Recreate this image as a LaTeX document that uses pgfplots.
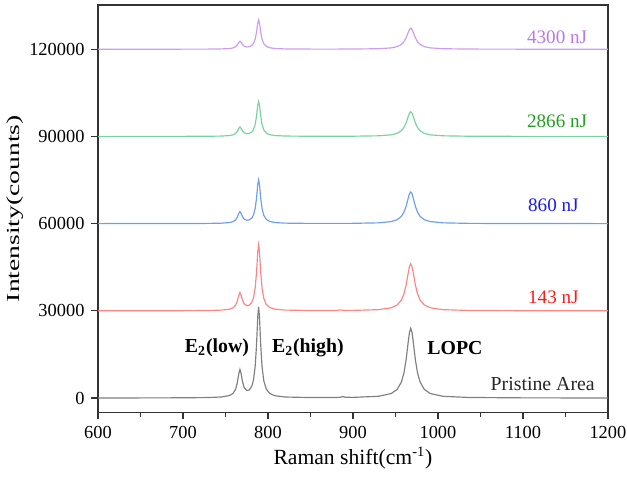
\documentclass[border=0pt]{standalone}
\usepackage{pgfplots}
\pgfplotsset{compat=1.18}
\usepackage{fontspec}
\setmainfont{Liberation Serif}
\definecolor{lP}{HTML}{808080}
\definecolor{lA}{HTML}{FF8585}
\definecolor{lB}{HTML}{6E9EF0}
\definecolor{lC}{HTML}{77D4A0}
\definecolor{lD}{HTML}{CC9CF2}
\definecolor{tA}{HTML}{FF1A1A}
\definecolor{tB}{HTML}{1A1AF0}
\definecolor{tC}{HTML}{22A022}
\definecolor{tD}{HTML}{B878EC}
\begin{document}
\begin{tikzpicture}
\begin{axis}[
  scale only axis, width=283pt, height=226pt,
  xmin=600, xmax=1200, ymin=-4900, ymax=135200,
  xtick={600,700,...,1200}, minor x tick num=1,
  ytick={0,30000,60000,90000,120000},
  scaled y ticks=false,
  yticklabel style={/pgf/number format/fixed,/pgf/number format/1000 sep={}},
  xticklabel style={/pgf/number format/1000 sep={}},
  /pgf/number format/assume math mode=true,
  tick align=outside, xtick pos=bottom, ytick pos=left,
  major tick length=4pt, minor tick length=2.5pt,
  tick style={line width=0.7pt, black!80},
  axis line style={line width=0.8pt, black!80},
  ticklabel style={font=\fontsize{10.2}{12}\selectfont},
  xlabel={Raman shift(cm\textsuperscript{-1})},
  xlabel style={font=\fontsize{12}{14}\selectfont, yshift=2pt},
  ylabel={\scalebox{1.5}[1]{Intensity(counts)}},
  ylabel style={font=\fontsize{10.2}{12}\selectfont, yshift=-3.5pt},
  clip=true,
]
% Pristine
\addplot[lP, line width=0.65pt] coordinates {
(600,17)(650,29)(700,67)(730,159)(745,343)(755,859)(759,1588)(762,3073)(764,5366)(765.5,8108)(767,9822)(768.5,8231)(770,5661)(772,3598)(775,2578)(778,2766)(781,4091)(783,6257)(785,11036)(786.5,18116)(788,28036)(789,31315)(790,28002)(791.5,18030)(793,10892)(795,6022)(798,3045)(802,1577)(808,794)(820,342)(850,148)(880,148)(885,250)(888,490)(891,260)(900,213)(930,586)(945,1531)(952,2952)(957,5496)(960,8640)(962.5,13032)(965,19200)(966.5,22584)(968,24000)(969.5,22584)(971,19200)(973.5,13032)(976,8640)(979,5496)(984,2952)(991,1529)(1006,583)(1036,185)(1100,50)(1150,26)(1200,16)
};
% 143 nJ
\addplot[lA, line width=0.65pt] coordinates {
(600,30012)(650,30020)(700,30047)(730,30108)(745,30230)(755,30568)(759,31037)(762,31988)(764,33453)(765.5,35190)(767,36299)(768.5,35294)(770,33667)(772,32371)(775,31757)(778,31943)(781,32930)(783,34513)(785,37993)(786.5,43142)(788,50353)(789,52737)(790,50332)(791.5,43087)(793,37901)(795,34363)(798,32203)(802,31138)(808,30570)(820,30244)(850,30103)(880,30103)(885,30300)(890,30120)(900,30144)(930,30394)(945,31032)(952,31993)(957,33710)(960,35832)(962.5,38797)(965,42960)(966.5,45244)(968,46200)(969.5,45244)(971,42960)(973.5,38797)(976,35832)(979,33710)(984,31993)(991,31032)(1006,30394)(1036,30125)(1100,30034)(1150,30018)(1200,30011)
};
% 860 nJ
\addplot[lB, line width=0.65pt] coordinates {
(600,60008)(650,60013)(700,60031)(730,60071)(745,60152)(755,60373)(759,60680)(762,61300)(764,62257)(765.5,63391)(767,64116)(768.5,63460)(770,62399)(772,61554)(775,61157)(778,61285)(781,61941)(783,62993)(785,65303)(786.5,68721)(788,73507)(789,75090)(790,73493)(791.5,68686)(793,65243)(795,62896)(798,61461)(802,60755)(808,60378)(820,60162)(850,60069)(880,60068)(900,60096)(930,60265)(945,60694)(952,61341)(957,62496)(960,63924)(962.5,65919)(965,68720)(966.5,70257)(968,70900)(969.5,70257)(971,68720)(973.5,65919)(976,63924)(979,62496)(984,61341)(991,60694)(1006,60265)(1036,60084)(1100,60023)(1150,60012)(1200,60007)
};
% 2866 nJ
\addplot[lC, line width=0.65pt] coordinates {
(600,90006)(650,90011)(700,90024)(730,90057)(745,90120)(755,90296)(759,90539)(762,91031)(764,91789)(765.5,92687)(767,93261)(768.5,92742)(770,91902)(772,91233)(775,90919)(778,91023)(781,91546)(783,92384)(785,94224)(786.5,96947)(788,100760)(789,102021)(790,100749)(791.5,96918)(793,94176)(795,92307)(798,91164)(802,90600)(808,90301)(820,90129)(850,90054)(880,90053)(900,90075)(930,90207)(945,90541)(952,91046)(957,91947)(960,93060)(962.5,94616)(965,96800)(966.5,97999)(968,98500)(969.5,97999)(971,96800)(973.5,94616)(976,93060)(979,91947)(984,91046)(991,90541)(1006,90207)(1036,90065)(1100,90018)(1150,90009)(1200,90006)
};
% 4300 nJ
\addplot[lD, line width=0.65pt] coordinates {
(600,120005)(650,120009)(700,120021)(730,120048)(745,120101)(755,120249)(759,120455)(762,120872)(764,121513)(765.5,122273)(767,122758)(768.5,122319)(770,121608)(772,121041)(775,120775)(778,120860)(781,121301)(783,122005)(785,123553)(786.5,125844)(788,129051)(789,130110)(790,129041)(791.5,125819)(793,123512)(795,121939)(798,120980)(802,120505)(808,120253)(820,120108)(850,120046)(880,120045)(900,120064)(930,120175)(945,120459)(952,120886)(957,121649)(960,122592)(962.5,123910)(965,125760)(966.5,126775)(968,127200)(969.5,126775)(971,125760)(973.5,123910)(976,122592)(979,121649)(984,120886)(991,120459)(1006,120175)(1036,120055)(1100,120015)(1150,120008)(1200,120005)
};
\node[font=\fontsize{11}{13}\selectfont\bfseries] at (axis cs:740,17200) {E\textsubscript{2}(low)};
\node[font=\fontsize{11}{13}\selectfont\bfseries] at (axis cs:847,17200) {E\textsubscript{2}(high)};
\node[font=\fontsize{11}{13}\selectfont\bfseries] at (axis cs:1020,17200) {LOPC};
\node[anchor=east, font=\fontsize{11}{13}\selectfont, text=black!85] at (axis cs:1192,4900) {Pristine Area};
\node[anchor=east, font=\fontsize{10.6}{13}\selectfont, text=tA] at (axis cs:1173,34800) {143 nJ};
\node[anchor=east, font=\fontsize{10.6}{13}\selectfont, text=tB] at (axis cs:1173,66200) {860 nJ};
\node[anchor=east, font=\fontsize{10.6}{13}\selectfont, text=tC] at (axis cs:1183,95200) {2866 nJ};
\node[anchor=east, font=\fontsize{10.6}{13}\selectfont, text=tD] at (axis cs:1183,124100) {4300 nJ};
\end{axis}
\pgfresetboundingbox
\path[use as bounding box] ([shift={(-54.4pt,-36.7pt)}]current axis.south west) rectangle ([shift={(10.6pt,2.8pt)}]current axis.north east);
\end{tikzpicture}
\end{document}
